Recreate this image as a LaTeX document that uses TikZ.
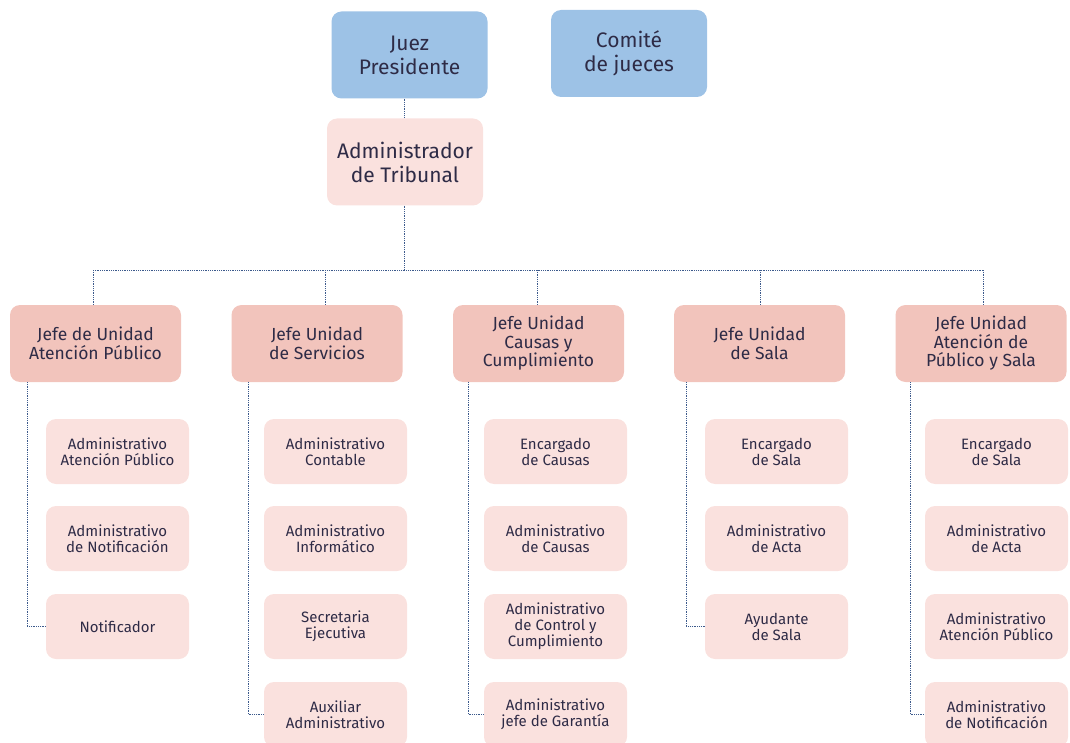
\documentclass[tikz,border=0pt]{standalone}
\usepackage{fontspec}
\setmainfont{Fira Sans}
\definecolor{topblue}{RGB}{157,194,230}
\definecolor{jefepink}{RGB}{242,196,188}
\definecolor{lightpink}{RGB}{250,225,222}
\definecolor{txt}{RGB}{46,43,70}
\definecolor{conn}{RGB}{60,90,140}
\tikzset{
  box/.style={rounded corners=10pt, align=center, text=txt, inner sep=0pt},
  topbox/.style={box, fill=topblue, minimum width=156pt, minimum height=87pt, font=\fontsize{21}{24}\selectfont},
  adminbox/.style={box, fill=lightpink, minimum width=156pt, minimum height=87pt, font=\fontsize{21}{24}\selectfont},
  jefebox/.style={box, fill=jefepink, minimum width=171pt, minimum height=77pt, font=\fontsize{17.5}{18.5}\selectfont},
  childbox/.style={box, fill=lightpink, minimum width=143pt, minimum height=65pt, font=\fontsize{15}{16}\selectfont},
  link/.style={draw=conn, line width=0.8pt, dash pattern=on 0.9pt off 0.9pt}
}
\begin{document}
\begin{tikzpicture}[x=1pt,y=-1pt]
\useasboundingbox (0,0) rectangle (1070,743);
\clip (0,0) rectangle (1070,743);
% top
\node[topbox] (juez) at (409.5,55) {Juez\\Presidente};
\node[topbox] (comite) at (629,53.5) {Comité\\de jueces};
\node[adminbox] (adm) at (405,162) {Administrador\\de Tribunal};
% jefes
\node[jefebox] (j1) at (95.5,343.5) {Jefe de Unidad\\Atención Público};
\node[jefebox] (j2) at (317,343.5) {Jefe Unidad\\de Servicios};
\node[jefebox] (j3) at (538.5,343.5) {Jefe Unidad\\Causas y\\Cumplimiento};
\node[jefebox] (j4) at (759.5,343.5) {Jefe Unidad\\de Sala};
\node[jefebox] (j5) at (981,343.5) {Jefe Unidad\\Atención de\\Público y Sala};
% bus
\coordinate (busc) at (404,270);
\coordinate (b1) at (93,270);
\coordinate (b2) at (325,270);
\coordinate (b3) at (537,270);
\coordinate (b4) at (760,270);
\coordinate (b5) at (983,270);
% children col1
\node[childbox] (c11) at (117.5,451.5) {Administrativo\\Atención Público};
\node[childbox] (c12) at (117.5,538.5) {Administrativo\\de Notificación};
\node[childbox] (c13) at (117.5,626.5) {Notificador};
% col2
\node[childbox] (c21) at (335.5,451.5) {Administrativo\\Contable};
\node[childbox] (c22) at (335.5,538.5) {Administrativo\\Informático};
\node[childbox] (c23) at (335.5,626.5) {Secretaria\\Ejecutiva};
\node[childbox] (c24) at (335.5,714.5) {Auxiliar\\Administrativo};
% col3
\node[childbox] (c31) at (555.5,451.5) {Encargado\\de Causas};
\node[childbox] (c32) at (555.5,538.5) {Administrativo\\de Causas};
\node[childbox] (c33) at (555.5,626.5) {Administrativo\\de Control y\\Cumplimiento};
\node[childbox] (c34) at (555.5,714.5) {Administrativo\\jefe de Garantía};
% col4
\node[childbox] (c41) at (776.5,451.5) {Encargado\\de Sala};
\node[childbox] (c42) at (776.5,538.5) {Administrativo\\de Acta};
\node[childbox] (c43) at (776.5,626.5) {Ayudante\\de Sala};
% col5
\node[childbox] (c51) at (996.5,451.5) {Encargado\\de Sala};
\node[childbox] (c52) at (996.5,538.5) {Administrativo\\de Acta};
\node[childbox] (c53) at (996.5,626.5) {Administrativo\\Atención Público};
\node[childbox] (c54) at (996.5,714.5) {Administrativo\\de Notificación};
% side rails
\coordinate (s1) at (27,382);
\coordinate (s2) at (248,382);
\coordinate (s3) at (468,382);
\coordinate (s4) at (686,382);
\coordinate (s5) at (910,382);
% connectors
\draw[link] (juez.south -| busc) -- (adm.north -| busc);
\draw[link] (adm.south -| busc) -- (busc);
\draw[link] (b1) -- (b5);
\draw[link] (b1) -- (b1 |- j1.north);
\draw[link] (b2) -- (b2 |- j2.north);
\draw[link] (b3) -- (b3 |- j3.north);
\draw[link] (b4) -- (b4 |- j4.north);
\draw[link] (b5) -- (b5 |- j5.north);
\draw[link] (s1) -- (s1 |- c13.west) -- (c13.west);
\draw[link] (s2) -- (s2 |- c24.west) -- (c24.west);
\draw[link] (s3) -- (s3 |- c34.west) -- (c34.west);
\draw[link] (s4) -- (s4 |- c43.west) -- (c43.west);
\draw[link] (s5) -- (s5 |- c54.west) -- (c54.west);
\end{tikzpicture}
\end{document}
